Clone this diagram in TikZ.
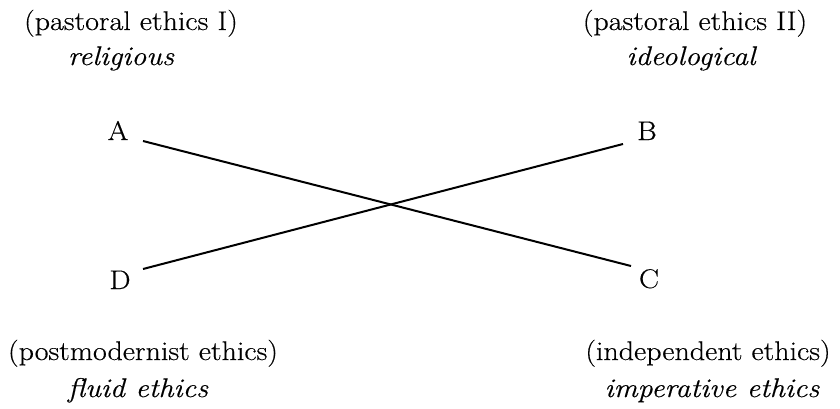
\documentclass[tikz,border=0pt]{standalone}
\usepackage{fontspec}
\setmainfont{Latin Modern Roman}[FakeStretch=1.11,FakeBold=0.4]
\begin{document}
\begin{tikzpicture}[x=1pt,y=-1pt,
  lbl/.style={anchor=base,inner sep=0pt,font=\fontsize{27}{32}\selectfont},
  ilbl/.style={lbl,font=\fontsize{27}{32}\selectfont\itshape},
  conn/.style={line width=2pt}]
\useasboundingbox (0,0) rectangle (840,409);
\node[lbl] (t1) at (131,30) {(pastoral ethics I)};
\node[ilbl] (t1i) at (121,65) {religious};
\node[lbl] (t2) at (695,30) {(pastoral ethics II)};
\node[ilbl] (t2i) at (691,65) {ideological};
\node[lbl] (A) at (118,140) {A};
\node[lbl] (B) at (647,140) {B};
\node[lbl] (D) at (120,289) {D};
\node[lbl] (C) at (649,288) {C};
\node[lbl] (t3) at (143,360) {(postmodernist ethics)};
\node[ilbl] (t3i) at (138,397) {fluid ethics};
\node[lbl] (t4) at (708,360) {(independent ethics)};
\node[ilbl] (t4i) at (712,397) {imperative ethics};
\coordinate (a1) at (143,141);
\coordinate (c1) at (631,266);
\coordinate (d1) at (143,269);
\coordinate (b1) at (623,144);
\draw[conn] (a1) -- (c1);
\draw[conn] (d1) -- (b1);
\end{tikzpicture}
\end{document}
